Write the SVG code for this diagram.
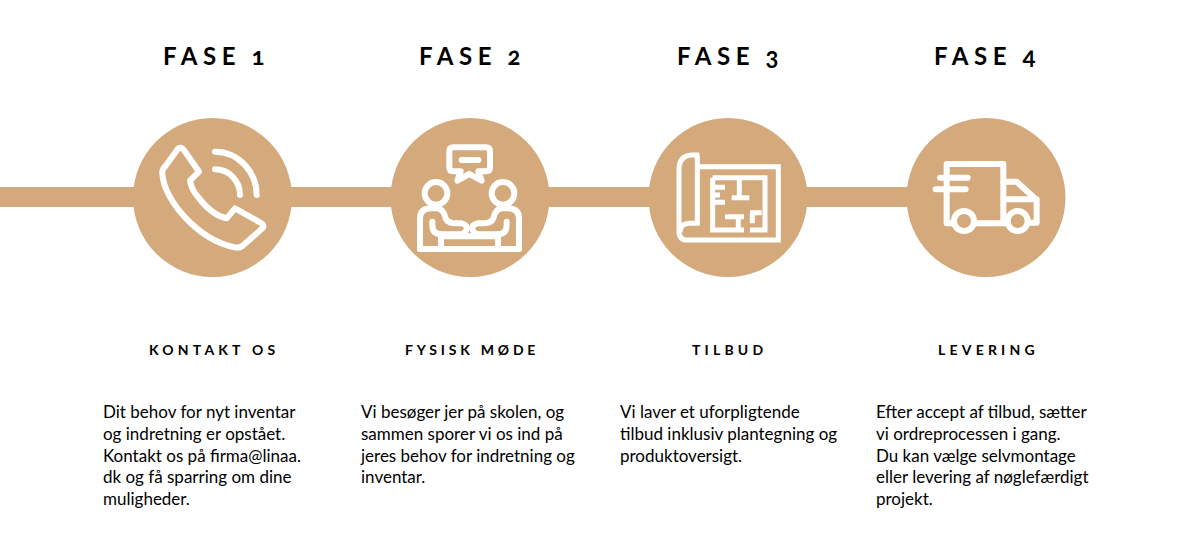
<svg xmlns="http://www.w3.org/2000/svg" width="1200" height="550" viewBox="0 0 1200 550">
<style>
.c{fill:#d4aa7d}
.i{fill:none;stroke:#fff;stroke-width:18;stroke-linecap:round;stroke-linejoin:round}
.m{fill:none;stroke:#fff;stroke-width:15;stroke-linecap:butt;stroke-linejoin:miter}
.h{font:700 24px Lato,"Liberation Sans",sans-serif;font-variant-numeric:oldstyle-nums;font-feature-settings:"onum";letter-spacing:5.600px;word-spacing:-1px;fill:#000}
.s{font:700 14px Lato,"Liberation Sans",sans-serif;letter-spacing:4.2px;fill:#000}
.b{font:400 17px Lato,"Liberation Sans",sans-serif;fill:#000}
</style>
<rect width="1200" height="550" fill="#fff"/>
<g id="connectors"><rect class="c" x="0" y="187" width="986" height="20"/></g>
<g id="fase1">
<text class="h" x="163" y="65">FASE 1</text>
<circle class="c" cx="212.500" cy="197.500" r="79.500"/>
<g transform="translate(155 140) scale(.3333)">
<path class="i" d="M70,25Q80,20 88,32L132,95L105,122Q110,150 130,172Q170,225 215,235L240,205L320,250Q330,258 322,265L262,318Q252,325 240,322C130,300 25,180 22,100Q20,90 30,80Z"/>
<path class="i" d="M180,35C250,35 305,95 305,165M180,88C222,88 255,122 255,165"/>
</g>
<text class="s" x="149" y="355">KONTAKT OS</text>
<text class="b" y="418"><tspan x="103">Dit behov for nyt inventar</tspan><tspan x="103" dy="21.800">og indretning er opstået.</tspan><tspan x="103" dy="21.800">Kontakt os på firma@linaa.</tspan><tspan x="103" dy="21.800">dk og få sparring om dine</tspan><tspan x="103" dy="21.800">muligheder.</tspan></text>
</g>
<g id="fase2">
<text class="h" x="419" y="65">FASE 2</text>
<circle class="c" cx="470" cy="197.500" r="79.500"/>
<g transform="translate(380 110) scale(.3333)">
<path class="i" d="M220,112H318Q330,112 330,124V172Q330,184 318,184H295L305,212L268,192L232,212L242,184H220Q208,184 208,172V124Q208,112 220,112Z"/>
<path class="i" d="M245,150H295"/>
</g>
<g transform="translate(415 175) scale(.3333)">
<circle class="i" cx="63" cy="55" r="34"/><circle class="i" cx="264" cy="55" r="34"/>
<path class="i" d="M15,222V130Q15,100 50,100H65Q85,100 92,130Q98,145 125,145H140Q158,150 155,163Q150,178 130,178H80Q52,178 52,150V140"/>
<path class="i" d="M312,222V130Q312,100 277,100H262Q242,100 235,130Q229,145 202,145H187Q169,150 172,163Q177,178 197,178H247Q275,178 275,150V140"/>
<path class="i" d="M15,222H312M78,178V222M249,178V222M78,184H249"/>
</g>
<text class="s" style="letter-spacing:3.800px" x="405" y="355">FYSISK MØDE</text>
<text class="b" y="418"><tspan x="361">Vi besøger jer på skolen, og</tspan><tspan x="361" dy="21.800">sammen sporer vi os ind på</tspan><tspan x="361" dy="21.800">jeres behov for indretning og</tspan><tspan x="361" dy="21.800">inventar.</tspan></text>
</g>
<g id="fase3">
<text class="h" x="677" y="65">FASE 3</text>
<circle class="c" cx="728" cy="197.500" r="79.500"/>
<g transform="translate(670 145) scale(.3333)">
<path class="m" d="M88,30H65Q27,32 27,75V260Q27,285 52,285H325V65H82M82,30V235H55Q30,238 30,262"/>
<path class="m" d="M128,98H285V255H240M222,255H128V98M208,98V158M185,158H238M128,127H165M128,172H165M128,150H150M165,215H222M205,215V255M240,203H275M247,203V235"/>
</g>
<text class="s" x="692" y="355">TILBUD</text>
<text class="b" y="418"><tspan x="620">Vi laver et uforpligtende</tspan><tspan x="620" dy="21.800">tilbud inklusiv plantegning og</tspan><tspan x="620" dy="21.800">produktoversigt.</tspan></text>
</g>
<g id="fase4">
<text class="h" x="934" y="65">FASE 4</text>
<circle class="c" cx="986" cy="197.500" r="79.500"/>
<g transform="translate(895 110) scale(.3333)">
<path class="i" d="M155,238V162H325V340H240M155,238V340H175"/>
<path class="i" d="M135,203H218M122,238H212"/>
<path class="i" d="M325,215H365L425,270V338H400M328,268H425M325,340H338"/>
<circle class="i" cx="207" cy="333" r="30"/><circle class="i" cx="368" cy="333" r="30"/>
</g>
<text class="s" x="938" y="355">LEVERING</text>
<text class="b" y="418"><tspan x="876">Efter accept af tilbud, sætter</tspan><tspan x="876" dy="21.800">vi ordreprocessen i gang.</tspan><tspan x="876" dy="21.800">Du kan vælge selvmontage</tspan><tspan x="876" dy="21.800">eller levering af nøglefærdigt</tspan><tspan x="876" dy="21.800">projekt.</tspan></text>
</g>
</svg>
